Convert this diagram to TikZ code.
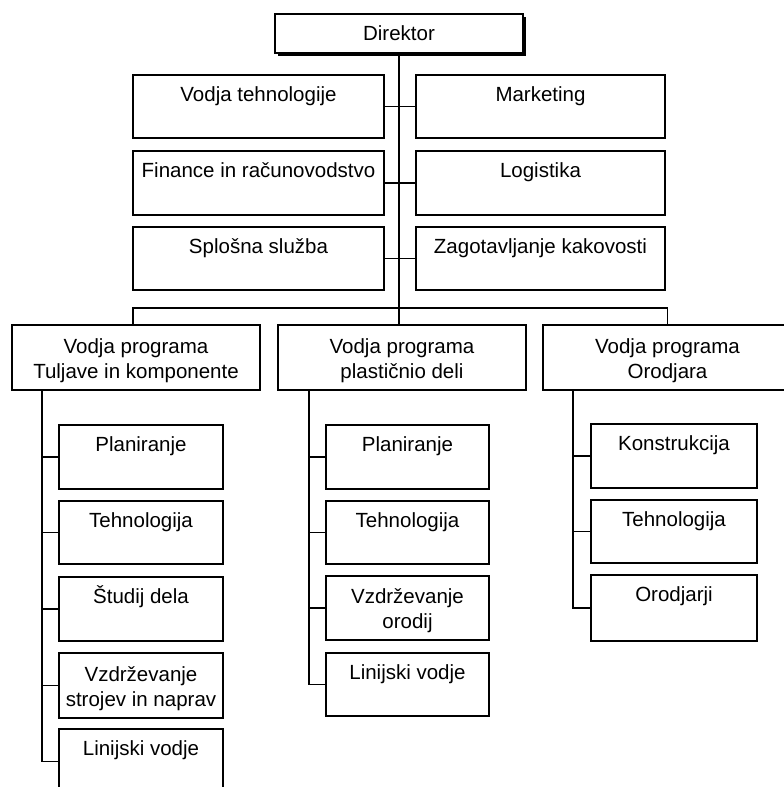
\documentclass[tikz,border=0pt]{standalone}
\usepackage{fontspec}
\setmainfont{Liberation Sans}
\usetikzlibrary{shadows}

% \orgunit[offset of the last baseline]{name}{left}{top}{right}{bottom}{text}
\newcommand{\orgunit}[7][26.5]{%
  \node[box, minimum width={(#5)-(#3)}, minimum height={(#6)-(#4)}]
    (#2) at ({((#3)+(#5))/2},{((#4)+(#6))/2}) {};
  \node[lbl] (#2-t) at ([yshift=-#1pt]#2.north) {#7};
}

\begin{document}
\begin{tikzpicture}[x=1pt,y=-1pt,
  box/.style={draw=black, line width=1.7pt, fill=white, rectangle,
              inner sep=0pt, outer sep=0pt},
  lbl/.style={anchor=base, inner sep=0pt, align=center,
              font=\fontsize{20.5}{25.5}\selectfont},
  wire/.style={draw=black, line width=1.8pt}]

\useasboundingbox (0,0) rectangle (784,787);
\clip (0,0) rectangle (784,787);

% top management
\node[box, minimum width=248, minimum height=39,
      drop shadow={shadow xshift=2.5pt, shadow yshift=-2.5pt, fill=black, opacity=1}]
  (dir) at (399,33.5) {};
\node[lbl] (dir-t) at ([yshift=-26.5pt]dir.north) {Direktor};

% staff functions
\orgunit{vt}{133}{75}{384}{138}{Vodja tehnologije}
\orgunit{mk}{416}{75}{665}{138}{Marketing}
\orgunit{fi}{133}{151}{384}{215}{Finance in računovodstvo}
\orgunit{lo}{416}{151}{665}{215}{Logistika}
\orgunit{ss}{133}{227}{384}{290}{Splošna služba}
\orgunit{zk}{416}{227}{665}{290}{Zagotavljanje kakovosti}

% programme managers
\orgunit[53.5]{pt}{12}{325}{260}{390}{Vodja programa\\Tuljave in komponente}
\orgunit[53.5]{pp}{278}{325}{526}{390}{Vodja programa\\plastičnio deli}
\orgunit[53.5]{po}{543}{325}{792}{390}{Vodja programa\\Orodjara}

% Tuljave in komponente
\orgunit{pt1}{59}{425}{223}{489}{Planiranje}
\orgunit{pt2}{59}{501}{223}{564}{Tehnologija}
\orgunit{pt3}{59}{577}{223}{641}{Študij dela}
\orgunit[53.5]{pt4}{59}{653}{223}{718}{Vzdrževanje\\strojev in naprav}
\orgunit{pt5}{59}{729}{223}{794}{Linijski vodje}

% plastičnio deli
\orgunit{pp1}{326}{425}{489}{489}{Planiranje}
\orgunit{pp2}{326}{501}{489}{564}{Tehnologija}
\orgunit[52.5]{pp3}{326}{576}{489}{640}{Vzdrževanje\\orodij}
\orgunit{pp4}{326}{653}{489}{716}{Linijski vodje}

% Orodjara
\orgunit{po1}{591}{424}{757}{488}{Konstrukcija}
\orgunit{po2}{591}{500}{757}{563}{Tehnologija}
\orgunit{po3}{591}{575}{757}{641}{Orodjarji}

% connectors
\coordinate (bus) at (dir.south |- 0,308);
\draw[wire] (dir.south) -- (dir.south |- pp.north);
\draw[wire] (vt.east) -- (mk.west);
\draw[wire] (fi.east) -- (lo.west);
\draw[wire] (ss.east) -- (zk.west);
\draw[wire] ([xshift=-3pt]pt.north) |- (bus) -| (po.north);

\coordinate (ptk) at ([xshift=30pt]pt.south west);
\coordinate (ppk) at ([xshift=31pt]pp.south west);
\coordinate (pok) at ([xshift=30pt]po.south west);
\foreach \c in {pt1,pt2,pt3,pt4,pt5} \draw[wire] (ptk) |- (\c.west);
\foreach \c in {pp1,pp2,pp3,pp4} \draw[wire] (ppk) |- (\c.west);
\foreach \c in {po1,po2,po3} \draw[wire] (pok) |- (\c.west);

\end{tikzpicture}
\end{document}
